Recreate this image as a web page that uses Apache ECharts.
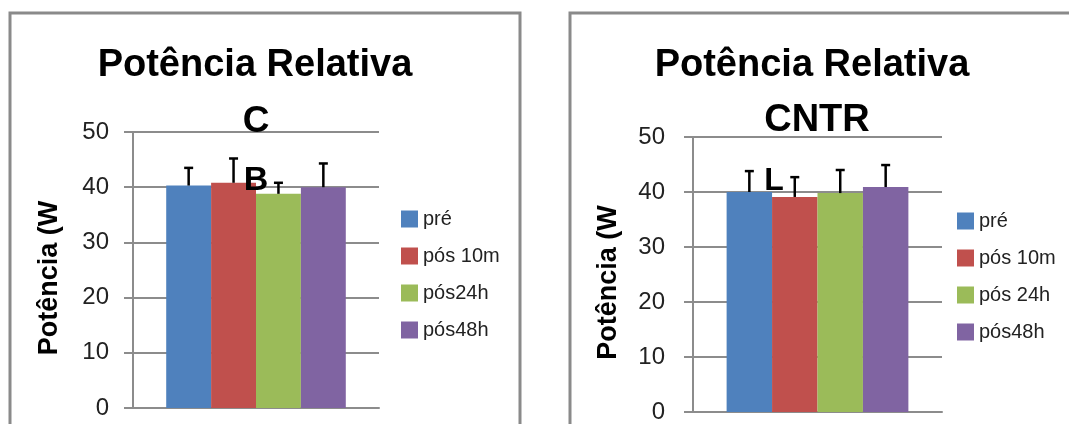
<!DOCTYPE html>
<html><head><meta charset="utf-8">
<script src="https://cdn.jsdelivr.net/npm/echarts@6/dist/echarts.min.js"></script>
<style>html,body{margin:0;padding:0;background:#fff}#c{width:1069px;height:424px}</style>
</head><body><div id="c"></div>
<script>
// ---- data ----
const leftNames = ['pré', 'pós 10m', 'pós24h', 'pós48h'];
const rightNames = ['pré', 'pós 10m', 'pós 24h', 'pós48h'];
const leftValues = [40.3, 40.8, 38.8, 40.0];
const leftErrors = [3.2, 4.4, 2.0, 4.3];
const rightValues = [40.0, 39.1, 39.8, 40.9];
const rightErrors = [3.8, 3.6, 4.2, 4.0];
const yMin = 0, yMax = 50, yInterval = 10;
const titleText = 'Potência Relativa';
const yName = 'Potência (W';
const leftTag = 'C', leftMark = 'B';
const rightTag = 'CNTR', rightMark = 'L';

// ---- style ----
const colors = ['#4F81BD', '#C0504D', '#9BBB59', '#8064A2'];
const gray = '#8c8c8c';
const FONT = '"Liberation Sans", Arial, sans-serif';
const GAP = 0.27;

const chart = echarts.init(document.getElementById('c'), null, {renderer: 'canvas'});

function errItem(params, api) {
  const base = api.coord([api.value(0), api.value(1)]);
  const top = api.coord([api.value(0), api.value(1) + api.value(2)]);
  const band = api.size([1, 0])[0];
  const bw = band * (1 - GAP) / 4;
  const cx = base[0] + (api.value(3) - 1.5) * bw;
  const half = 4.5;
  const st = {stroke: '#000', lineWidth: 2.5};
  return {type: 'group', children: [
    {type: 'line', shape: {x1: cx, y1: base[1], x2: cx, y2: top[1]}, style: st},
    {type: 'line', shape: {x1: cx - half, y1: top[1], x2: cx + half, y2: top[1]}, style: st}
  ]};
}

function yAxisCfg(gridIndex, margin, gap) {
  return {
    type: 'value', gridIndex, min: yMin, max: yMax, interval: yInterval,
    name: yName, nameLocation: 'middle', nameGap: gap, nameRotate: 90,
    nameTextStyle: {fontFamily: FONT, fontWeight: 'bold', fontSize: 27, color: '#000', padding: [0, 16, 0, 0]},
    axisLine: {show: true, lineStyle: {color: gray, width: 2}},
    axisTick: {show: true, length: 9, lineStyle: {color: gray, width: 2}},
    splitLine: {show: true, lineStyle: {color: gray, width: 2}},
    axisLabel: {fontFamily: FONT, fontSize: 24, color: '#222', margin: margin}
  };
}
function xAxisCfg(gridIndex) {
  return {
    type: 'category', gridIndex, data: [''],
    axisLine: {show: true, lineStyle: {color: gray, width: 2}},
    axisTick: {show: false}, axisLabel: {show: false}
  };
}

const series = [];
[[leftNames, leftValues, leftErrors], [rightNames, rightValues, rightErrors]].forEach((p, g) => {
  p[0].forEach((n, i) => {
    series.push({
      type: 'bar', name: n, xAxisIndex: g, yAxisIndex: g,
      data: [p[1][i]], barGap: '0%', barCategoryGap: (GAP * 100) + '%',
      itemStyle: {color: colors[i]}, animation: false
    });
  });
  series.push({
    type: 'custom', xAxisIndex: g, yAxisIndex: g, z: 10,
    data: p[1].map((v, i) => [0, v, p[2][i], i]),
    encode: {x: 0, y: 1}, renderItem: errItem, animation: false, silent: true
  });
});

const legendCfg = (names, left, top) => ({
  orient: 'vertical', left, top, padding: 0, icon: 'rect',
  itemWidth: 17, itemHeight: 17, itemGap: 17, data: names,
  textStyle: {fontFamily: FONT, fontSize: 20, color: '#222'}
});

const txt = (t, x, y, size) => ({
  type: 'text', x, y, z: 100,
  style: {text: t, font: 'bold ' + size + 'px ' + FONT, fill: '#000', textAlign: 'center', textVerticalAlign: 'middle'}
});

chart.setOption({
  animation: false,
  color: colors,
  title: [
    {text: titleText, left: 255, top: 47, textAlign: 'center', padding: 0,
     textStyle: {fontFamily: FONT, fontWeight: 'bold', fontSize: 38, color: '#000'}},
    {text: titleText, left: 812, top: 47, textAlign: 'center', padding: 0,
     textStyle: {fontFamily: FONT, fontWeight: 'bold', fontSize: 38, color: '#000'}}
  ],
  legend: [legendCfg(leftNames, 401, 209), legendCfg(rightNames, 957, 211)],
  grid: [
    {left: 133, top: 132, width: 246, height: 276},
    {left: 693, top: 137, width: 249, height: 275}
  ],
  xAxis: [xAxisCfg(0), xAxisCfg(1)],
  yAxis: [yAxisCfg(0, 24, 70), yAxisCfg(1, 28, 71)],
  series,
  graphic: [
    {type: 'rect', shape: {x: 10, y: 13, width: 510, height: 440}, style: {fill: 'none', stroke: '#8a8a8a', lineWidth: 3}},
    {type: 'rect', shape: {x: 570, y: 13, width: 510, height: 440}, style: {fill: 'none', stroke: '#8a8a8a', lineWidth: 3}},
    txt(leftTag, 256, 122, 37),
    txt(leftMark, 256, 181, 34),
    txt(rightTag, 817, 121, 38),
    txt(rightMark, 774, 181, 32)
  ]
});
</script></body></html>
